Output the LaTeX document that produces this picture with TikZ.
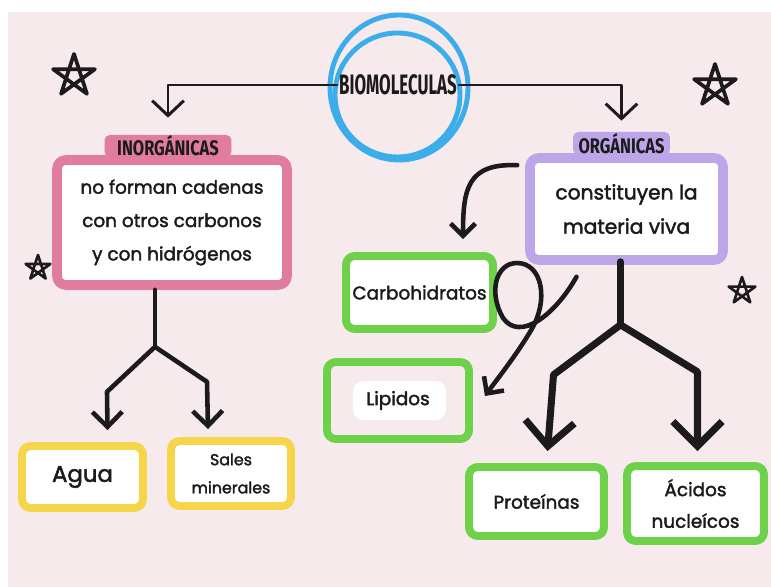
\documentclass[tikz,border=0pt]{standalone}
\usepackage{fontspec}
\setmainfont{Poppins}[FakeBold=2]
\newfontfamily\biofont[FakeStretch=0.6]{Fira Sans}
\newfontfamily\tabfont[FakeStretch=0.78]{Fira Sans}
\usetikzlibrary{arrows.meta, calc}
\definecolor{paper}{HTML}{F7EAEC}
\definecolor{ink}{HTML}{1C1A1C}
\definecolor{sky}{HTML}{3AADEA}
\definecolor{rose}{HTML}{E07C9E}
\definecolor{lilac}{HTML}{BCA6E8}
\definecolor{leaf}{HTML}{6FD04A}
\definecolor{sun}{HTML}{F5D64A}
\tikzset{
  every picture/.style={line cap=round, line join=round},
  frame/.style={draw=#1, fill=white, line width=5.5pt, rounded corners=5pt, align=center,
    inner sep=0pt, text=ink, font=\fontsize{10.5pt}{19pt}\selectfont},
  leafbox/.style={frame=leaf, line width=4.5pt, font=\fontsize{10.5pt}{18pt}\selectfont},
  sunbox/.style={frame=sun, line width=4.5pt},
  tab/.style={fill=#1, rounded corners=3pt, inner sep=0pt, text=ink, font=\tabfont\bfseries\fontsize{12pt}{14pt}\selectfont},
  link/.style={draw=ink, line width=1.7pt, -{Straight Barb[length=8.5pt, width=18pt]}},
  curl/.style={draw=ink, line width=2.6pt, -{Straight Barb[length=7pt, width=14pt]}},
  twig/.style={draw=ink, line width=2.6pt},
  trunk/.style={draw=ink, line width=4pt},
  starline/.style={draw=ink, line width=#1},
  starline/.default=2pt,
}

\begin{document}
\begin{tikzpicture}[x=0.02cm, y=-0.02cm]
  \useasboundingbox (0,0) rectangle (771,587);
  \fill[white] (0,0) rectangle (771,587);
  \fill[paper] (8,12) rectangle (771,587);

  % stars
  \foreach \x/\y/\r/\w in {74/76/22/2.1pt, 715/86/22/2.1pt, 38/268/13/1.5pt, 742/291/14/1.5pt}
    \draw[starline=\w, shift={(\x,\y)}] (270:\r) -- (54:\r) -- (198:\r) -- (342:\r) -- (126:\r) -- cycle;

  % centre
  \draw[sky, line width=2.8pt] (399,87.5) ellipse [x radius=69, y radius=72.5];
  \draw[sky, line width=2.8pt] (397.5,95) ellipse [x radius=62.5, y radius=62];
  \node[font=\biofont\bfseries\fontsize{16pt}{18pt}\selectfont, text=ink, inner sep=1pt] (bio) at (398,85) {BIOMOLECULAS};

  % inorganic side
  \node[frame=rose, minimum width=4.6cm, minimum height=2.5cm] (inobox) at (172,222.5)
    {no forman cadenas\\con otros carbonos\\y con hidrógenos};
  \node[tab=rose, minimum width=2.54cm, minimum height=0.44cm] (inotab) at (168,146) {INORGÁNICAS};
  \node[sunbox, minimum width=2.42cm, minimum height=1.24cm, font=\fontsize{13pt}{16pt}\selectfont] (agua) at (82.5,477) {Agua};
  \node[sunbox, minimum width=2.4cm, minimum height=1.3cm, font=\fontsize{9pt}{16pt}\selectfont] (sales) at (231,473.5) {Sales\\minerales};

  % organic side
  \node[frame=lilac, minimum width=3.86cm, minimum height=2.04cm, font=\fontsize{11.5pt}{19.5pt}\selectfont] (orgbox) at (626.5,209)
    {constituyen la\\materia viva};
  \node[tab=lilac, minimum width=1.94cm, minimum height=0.46cm] (orgtab) at (621.5,143.5) {ORGÁNICAS};
  \node[leafbox, minimum width=2.94cm, minimum height=1.46cm] (carbo) at (419.5,292.5) {Carbohidratos};
  \fill[white, rounded corners=6pt] (353,381) rectangle (446,420);
  \node[leafbox, fill=none, minimum width=2.84cm, minimum height=1.54cm] (lipid) at (398,400.5) {Lipidos};
  \node[leafbox, minimum width=2.7cm, minimum height=1.38cm] (prot) at (536.5,501.5) {Proteínas};
  \node[leafbox, minimum width=2.74cm, minimum height=1.5cm] (acid) at (695.5,503.5) {Ácidos\\nucleícos};

  % links from the centre
  \draw[link, shorten >=0.34cm] (bio.west) -| (inotab.north);
  \draw[link, shorten >=0.22cm] (bio.east) -| (orgtab.north);

  % inorganic tree
  \coordinate (inofork) at ($(inobox.south)+(-17,57)$);
  \draw[twig] ($(inobox.south)+(-17,0)$) -- (inofork);
  \draw[twig, -{Straight Barb[length=8.5pt, width=17pt]}] (inofork) -- ++(-48,45) -- ($(agua.north)+(25,-12)$);
  \draw[twig, -{Straight Barb[length=8.5pt, width=17pt]}] (inofork) -- ++(52,35) -- ($(sales.north)+(-23,-8)$);

  % organic tree
  \coordinate (orgfork) at ($(orgbox.south)+(-6,60)$);
  \draw[trunk] ($(orgbox.south)+(-6,-3)$) -- (orgfork);
  \draw[trunk, -{Straight Barb[length=14pt, width=28pt]}] (orgfork) -- ++(-67,50) -- ($(prot.north)+(11,-12)$);
  \draw[trunk, -{Straight Barb[length=14pt, width=28pt]}] (orgfork) -- ++(77,47) -- ($(acid.north)+(2,-11)$);

  % curved arrows
  \draw[curl] ($(orgbox.north west)+(-8,12)$) .. controls +(-50,-2) and +(0,-50) .. ($(carbo.north)+(43.5,-13)$);
  \draw[curl] ($(orgbox.south)+(-50,12)$) .. controls (555,315) and (520,342) .. (503,318)
    .. controls (488,292) and (496,263) .. (517,263) .. controls (542,263) and (550,300) .. (530,332)
    .. controls (515,357) and (495,382) .. ($(lipid.east)+(12,-4.5)$);
\end{tikzpicture}
\end{document}
